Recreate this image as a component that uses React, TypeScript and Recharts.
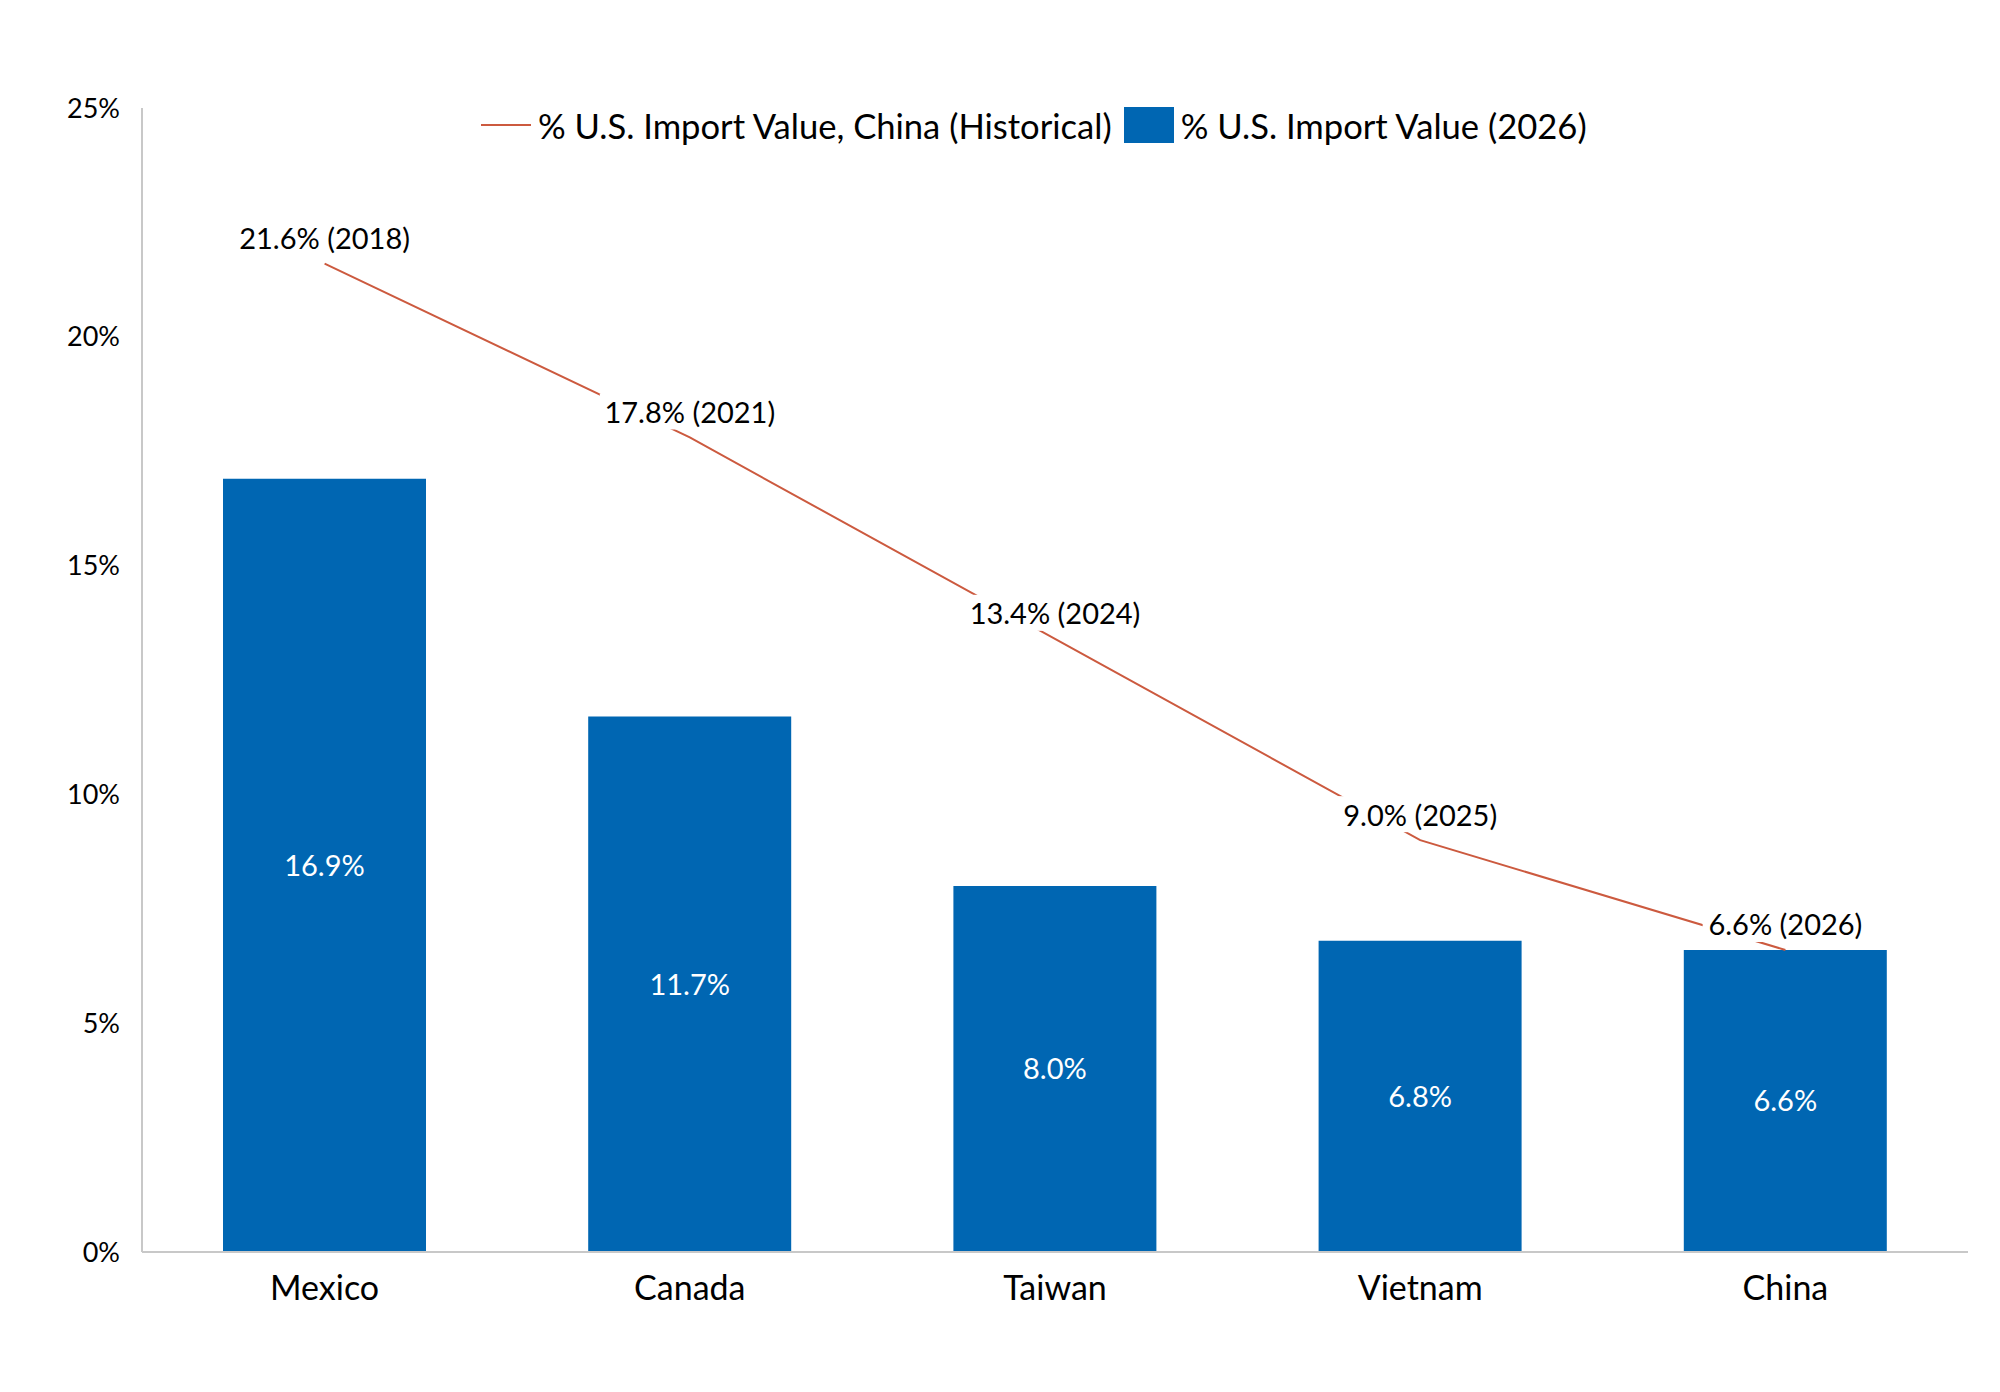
import {
  ComposedChart,
  Bar,
  Line,
  XAxis,
  YAxis,
  Legend,
  LabelList,
} from "recharts";

const countries = ["Mexico", "Canada", "Taiwan", "Vietnam", "China"];
const importShare2026 = [16.9, 11.7, 8.0, 6.8, 6.6];
const chinaHistorical = [21.6, 17.8, 13.4, 9.0, 6.6];
const chinaYears = ["2018", "2021", "2024", "2025", "2026"];
const yTicks = [0, 5, 10, 15, 20, 25];

const BAR_COLOR = "#0066B2";
const LINE_COLOR = "#CC5A3F";
const AXIS_COLOR = "#C8C8C8";
const FONT = "Lato, 'Open Sans', sans-serif";

const data = countries.map((country, i) => ({
  country,
  share2026: importShare2026[i],
  china: chinaHistorical[i],
}));

function LineLabel(props: any) {
  const { x, y, value, index } = props;
  if (x == null || y == null) return null;
  const text = `${Number(value).toFixed(1)}% (${chinaYears[index]})`;
  const w = text.length * 14.5 + 6;
  const cy = y - 26;
  return (
    <g>
      <rect x={x - w / 2} y={cy - 18} width={w} height={36} fill="#ffffff" />
      <text
        x={x}
        y={cy}
        textAnchor="middle"
        dominantBaseline="central"
        fontSize={29}
        fontFamily={FONT}
        fill="#000000"
      >
        {text}
      </text>
    </g>
  );
}

function ChartLegend() {
  const textStyle = { fontSize: 34.6, fontFamily: FONT, color: "#000", whiteSpace: "nowrap" as const };
  return (
    <div style={{ display: "flex", alignItems: "center", height: 36 }}>
      <div style={{ width: 50, height: 2, background: LINE_COLOR, marginRight: 7 }} />
      <span style={textStyle}>% U.S. Import Value, China (Historical)</span>
      <div style={{ width: 50, height: 36, background: BAR_COLOR, marginLeft: 12, marginRight: 7 }} />
      <span style={textStyle}>% U.S. Import Value (2026)</span>
    </div>
  );
}

export default function App() {
  return (
    <div style={{ position: "absolute", left: 0, top: 0, width: 2000, height: 1392, background: "#fff" }}>
      <ComposedChart
        width={2000}
        height={1392}
        data={data}
        margin={{ top: 108, right: 32, bottom: 0, left: 0 }}
      >
        <XAxis
          dataKey="country"
          height={140}
          tickLine={false}
          tickSize={0}
          tickMargin={24}
          axisLine={{ stroke: AXIS_COLOR, strokeWidth: 2 }}
          tick={{ fontSize: 34, fontFamily: FONT, fill: "#000" }}
        />
        <YAxis
          width={142}
          domain={[0, 25]}
          ticks={yTicks}
          tickFormatter={(v) => `${v}%`}
          tickLine={false}
          tickSize={0}
          tickMargin={22}
          axisLine={{ stroke: AXIS_COLOR, strokeWidth: 2 }}
          tick={{ fontSize: 27, fontFamily: FONT, fill: "#000" }}
        />
        <Legend
          verticalAlign="middle"
          layout="horizontal"
          wrapperStyle={{ top: 107, left: 481, width: 1300 }}
          content={() => <ChartLegend />}
        />
        <Bar dataKey="share2026" fill={BAR_COLOR} barSize={203} isAnimationActive={false}>
          <LabelList
            dataKey="share2026"
            position="center"
            formatter={(v: any) => `${Number(v).toFixed(1)}%`}
            style={{ fontSize: 29, fontFamily: FONT, fill: "#ffffff" }}
          />
        </Bar>
        <Line
          dataKey="china"
          type="linear"
          stroke={LINE_COLOR}
          strokeWidth={2}
          dot={false}
          activeDot={false}
          isAnimationActive={false}
        >
          <LabelList dataKey="china" content={<LineLabel />} />
        </Line>
      </ComposedChart>
    </div>
  );
}
